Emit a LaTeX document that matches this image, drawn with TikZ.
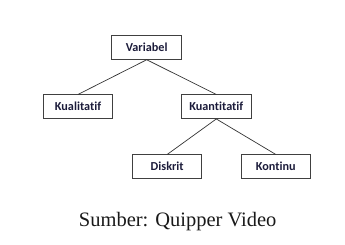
\documentclass[tikz,border=0pt]{standalone}
\usepackage{fontspec}
\setmainfont{Liberation Serif}
\newfontfamily\boxfont[Ligatures={NoCommon,NoRare,NoDiscretionary}]{Carlito}
\definecolor{boxtext}{HTML}{1B1B3A}
\begin{document}
\begin{tikzpicture}[x=1pt,y=-1pt,
  vbox/.style={draw=black!75, line width=1pt, minimum width=69.5pt, minimum height=23.5pt, inner sep=0pt, font=\boxfont\bfseries\fontsize{12.2}{14}\selectfont, text=boxtext},
  link/.style={draw=black!80, line width=0.7pt}]
\useasboundingbox (0,0) rectangle (345,245);
\node[vbox] (var) at (146.7,47.5) {Variabel};
\node[vbox] (kual) at (78,106.7) {Kualitatif};
\node[vbox] (kuan) at (216.3,106.7) {Kuantitatif};
\node[vbox] (dis) at (167.2,166.7) {Diskrit};
\node[vbox] (kon) at (275.8,166.7) {Kontinu};
\draw[link] (var.south) -- (kual.north);
\draw[link] (var.south) -- (kuan.north);
\draw[link] (kuan.south) -- (dis.north);
\draw[link] (kuan.south) -- (kon.north);
\node[font=\fontsize{20.5}{24}\selectfont, text=black!90] (cap) at (177.7,221.5) {Sumber: Quipper Video};
\end{tikzpicture}
\end{document}
